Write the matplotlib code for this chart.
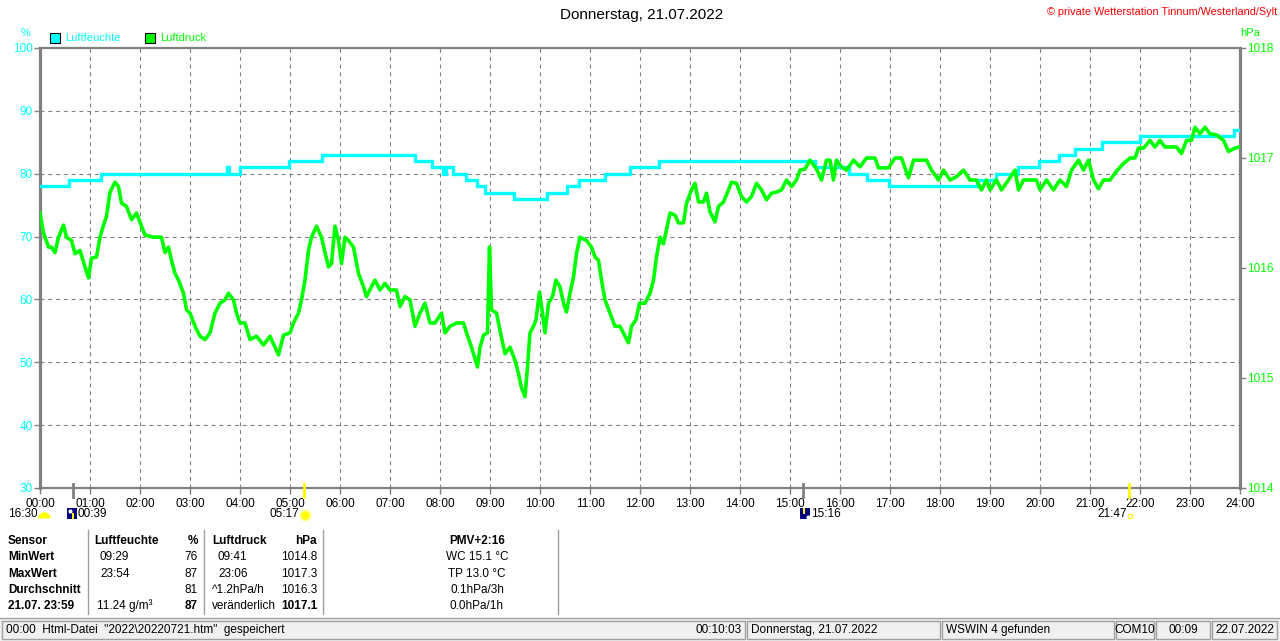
import matplotlib
matplotlib.use("Agg")
import matplotlib.pyplot as plt
import matplotlib.transforms as mtransforms
from matplotlib.patches import Rectangle
from matplotlib.lines import Line2D
from matplotlib.markers import MarkerStyle

plt.rcParams['font.family'] = ['Liberation Sans', 'DejaVu Sans']

# ---------------- data ----------------
hours = list(range(0, 25))
hour_labels = [f"{h:02d}:00" for h in hours]
hum_ticks = [30, 40, 50, 60, 70, 80, 90, 100]
pres_ticks = [1014, 1015, 1016, 1017, 1018]

# humidity (%), step changes: time in hours, value
hum_t = [0, 0.57, 1.21, 3.73, 3.77, 4.0, 4.97, 5.63, 7.5, 7.83, 8.05, 8.12, 8.25,
         8.53, 8.73, 8.9, 9.48, 10.13, 10.53, 10.77, 11.3, 11.79, 12.37, 15.5,
         16.17, 16.53, 16.97, 18.73, 19.11, 19.55, 19.97, 20.37, 20.7, 21.23,
         22.0, 23.87, 24.0]
hum_v = [78, 79, 80, 81, 80, 81, 82, 83, 82, 81, 80, 81, 80,
         79, 78, 77, 76, 77, 78, 79, 80, 81, 82, 81,
         80, 79, 78, 79, 80, 81, 82, 83, 84, 85,
         86, 87, 87]

# air pressure (hPa)
pres_t = [0.00, 0.07, 0.17, 0.23, 0.30, 0.37, 0.47, 0.53, 0.63, 0.70, 0.80, 0.90,
          0.97, 1.03, 1.13, 1.20, 1.27, 1.33, 1.40, 1.50, 1.57, 1.63, 1.73, 1.83,
          1.93, 2.03, 2.10, 2.27, 2.43, 2.50, 2.57, 2.63, 2.70, 2.77, 2.87, 2.93,
          3.00, 3.10, 3.20, 3.30, 3.40, 3.50, 3.60, 3.70, 3.77, 3.87, 3.93, 4.00,
          4.10, 4.20, 4.33, 4.47, 4.60, 4.70, 4.77, 4.87, 5.00, 5.07, 5.17, 5.23,
          5.30, 5.37, 5.43, 5.53, 5.63, 5.70, 5.77, 5.83, 5.90, 5.97, 6.03, 6.10,
          6.17, 6.27, 6.37, 6.47, 6.53, 6.63, 6.70, 6.80, 6.90, 7.00, 7.13, 7.20,
          7.30, 7.40, 7.50, 7.60, 7.70, 7.80, 7.90, 8.03, 8.10, 8.20, 8.33, 8.47,
          8.53, 8.60, 8.67, 8.75, 8.80, 8.87, 8.95, 8.99, 9.03, 9.13, 9.21, 9.30,
          9.40, 9.50, 9.57, 9.63, 9.70, 9.75, 9.80, 9.87, 9.92, 9.99, 10.05, 10.10,
          10.17, 10.25, 10.32, 10.40, 10.47, 10.53, 10.60, 10.67, 10.73, 10.80,
          10.93, 11.03, 11.10, 11.17, 11.23, 11.30, 11.40, 11.50, 11.60, 11.70,
          11.77, 11.83, 11.92, 11.99, 12.10, 12.20, 12.27, 12.33, 12.40, 12.47,
          12.53, 12.60, 12.70, 12.77, 12.87, 12.93, 13.03, 13.10, 13.17, 13.27,
          13.33, 13.40, 13.50, 13.57, 13.67, 13.77, 13.83, 13.93, 14.03, 14.13,
          14.23, 14.33, 14.43, 14.53, 14.63, 14.73, 14.83, 14.93, 15.03, 15.13,
          15.20, 15.30, 15.40, 15.53, 15.63, 15.73, 15.80, 15.87, 15.93, 16.03,
          16.13, 16.27, 16.40, 16.53, 16.70, 16.77, 16.87, 16.97, 17.10, 17.23,
          17.37, 17.47, 17.60, 17.73, 17.83, 17.97, 18.07, 18.20, 18.33, 18.47,
          18.60, 18.73, 18.83, 18.93, 19.00, 19.13, 19.23, 19.37, 19.50, 19.57,
          19.67, 19.80, 19.93, 20.00, 20.13, 20.27, 20.40, 20.53, 20.63, 20.77,
          20.87, 20.97, 21.07, 21.17, 21.27, 21.40, 21.53, 21.67, 21.80, 21.90,
          21.97, 22.07, 22.20, 22.30, 22.40, 22.50, 22.60, 22.73, 22.83, 22.93,
          23.03, 23.10, 23.20, 23.30, 23.40, 23.53, 23.67, 23.77, 23.90, 23.97, 24.00]
pres_v = [1016.50, 1016.32, 1016.19, 1016.19, 1016.14, 1016.28, 1016.39, 1016.28,
          1016.25, 1016.13, 1016.16, 1016.01, 1015.91, 1016.09, 1016.10, 1016.28,
          1016.39, 1016.47, 1016.69, 1016.78, 1016.74, 1016.59, 1016.56, 1016.44,
          1016.50, 1016.38, 1016.30, 1016.28, 1016.28, 1016.14, 1016.19, 1016.07,
          1015.95, 1015.89, 1015.77, 1015.62, 1015.59, 1015.47, 1015.38, 1015.35,
          1015.41, 1015.59, 1015.68, 1015.71, 1015.77, 1015.71, 1015.59, 1015.50,
          1015.50, 1015.35, 1015.38, 1015.30, 1015.38, 1015.28, 1015.21, 1015.39,
          1015.41, 1015.50, 1015.59, 1015.71, 1015.89, 1016.16, 1016.28, 1016.38,
          1016.28, 1016.14, 1016.01, 1016.04, 1016.38, 1016.25, 1016.04, 1016.28,
          1016.25, 1016.19, 1015.95, 1015.83, 1015.74, 1015.83, 1015.89, 1015.80,
          1015.86, 1015.80, 1015.80, 1015.65, 1015.74, 1015.71, 1015.47, 1015.59,
          1015.68, 1015.50, 1015.50, 1015.59, 1015.41, 1015.47, 1015.50, 1015.50,
          1015.41, 1015.32, 1015.22, 1015.10, 1015.28, 1015.39, 1015.41, 1016.19,
          1015.62, 1015.59, 1015.41, 1015.22, 1015.28, 1015.16, 1015.04, 1014.91,
          1014.83, 1015.10, 1015.41, 1015.47, 1015.53, 1015.78, 1015.59, 1015.41,
          1015.68, 1015.74, 1015.89, 1015.83, 1015.68, 1015.60, 1015.77, 1015.92,
          1016.13, 1016.28, 1016.25, 1016.19, 1016.10, 1016.07, 1015.89, 1015.71,
          1015.59, 1015.47, 1015.47, 1015.38, 1015.32, 1015.47, 1015.53, 1015.68,
          1015.68, 1015.77, 1015.89, 1016.10, 1016.28, 1016.22, 1016.35, 1016.50,
          1016.48, 1016.41, 1016.41, 1016.59, 1016.71, 1016.77, 1016.60, 1016.60,
          1016.68, 1016.51, 1016.42, 1016.56, 1016.60, 1016.71, 1016.78, 1016.77,
          1016.65, 1016.60, 1016.65, 1016.77, 1016.71, 1016.62, 1016.68, 1016.69,
          1016.71, 1016.80, 1016.74, 1016.80, 1016.89, 1016.90, 1016.98, 1016.90,
          1016.80, 1016.98, 1016.98, 1016.80, 1016.98, 1016.92, 1016.89, 1016.98,
          1016.92, 1017.00, 1017.00, 1016.91, 1016.91, 1016.91, 1017.00, 1017.00,
          1016.82, 1016.98, 1016.98, 1016.98, 1016.89, 1016.80, 1016.89, 1016.80,
          1016.83, 1016.89, 1016.80, 1016.80, 1016.71, 1016.80, 1016.71, 1016.80,
          1016.71, 1016.80, 1016.89, 1016.71, 1016.80, 1016.80, 1016.80, 1016.71,
          1016.80, 1016.71, 1016.80, 1016.74, 1016.89, 1016.98, 1016.89, 1016.98,
          1016.80, 1016.72, 1016.80, 1016.80, 1016.88, 1016.95, 1017.00, 1017.00,
          1017.09, 1017.09, 1017.16, 1017.10, 1017.16, 1017.10, 1017.10, 1017.10,
          1017.04, 1017.16, 1017.16, 1017.28, 1017.22, 1017.28, 1017.22, 1017.21,
          1017.16, 1017.06, 1017.09, 1017.10, 1017.10]

# astronomical markers (hours): moonset, sunrise, moonrise, sunset
mark_times = [0.65, 5.283, 15.267, 21.783]
mark_colors = ['#808080', '#ffff00', '#808080', '#ffff00']

title = "Donnerstag, 21.07.2022"
copyright_txt = "\u00a9 private Wetterstation Tinnum/Westerland/Sylt"

table_col1 = ["Sensor", "MinWert", "MaxWert", "Durchschnitt", "21.07. 23:59"]
hum_head = ("Luftfeuchte", "%")
hum_times = ["09:29", "23:54", "", "11.24 g/m\u00b3"]
hum_vals = ["76", "87", "81", "87"]
pres_head = ("Luftdruck", "hPa")
pres_times = ["09:41", "23:06", "^1.2hPa/h", "ver\u00e4nderlich"]
pres_vals = ["1014.8", "1017.3", "1016.3", "1017.1"]
pmv_lines = ["PMV+2:16", "WC 15.1 \u00b0C", "TP 13.0 \u00b0C", "0.1hPa/3h", "0.0hPa/1h"]

status_panels = [
    (2, 745, "00:00  Html-Datei  \"2022\\20220721.htm\"  gespeichert", "00:10:03"),
    (747, 940, "Donnerstag, 21.07.2022", None),
    (942, 1114, "WSWIN 4 gefunden", None),
    (1116, 1154, "COM10", None),
    (1156, 1210, "00:09", None),
    (1212, 1277, "22.07.2022", None),
]

# ---------------- figure ----------------
W, H = 1280, 641
fig = plt.figure(figsize=(W / 100, H / 100), dpi=100)
fig.patch.set_facecolor('white')

def fx(px):
    return px / W

def fy(py):
    return 1 - py / H

CYAN = '#00ffff'
GREEN = '#00ff00'
GRAY = '#808080'

L, R, T, B = 40, 1240, 48, 488
ax = fig.add_axes([fx(L), fy(B), fx(R - L), (B - T) / H])
ax.set_xlim(0, 24)
ax.set_ylim(30, 100)
ax.set_xticks(hours)
ax.set_xticklabels(hour_labels)
ax.set_yticks(hum_ticks)
ax.set_yticklabels([str(v) for v in hum_ticks])
ax.grid(True, color=GRAY, linestyle=(0, (3.5, 3.5)), linewidth=0.8)
ax.set_axisbelow(True)
for s, lw in (('left', 2.3), ('right', 2.3), ('top', 1.6), ('bottom', 1.6)):
    ax.spines[s].set_color(GRAY)
    ax.spines[s].set_linewidth(lw)
ax.tick_params(axis='y', colors=GRAY, labelcolor=CYAN, length=4, width=1,
               labelsize=8.5, pad=1)
ax.tick_params(axis='x', colors=GRAY, labelcolor='black', length=4, width=1,
               labelsize=8.5, pad=3)

ax.plot(hum_t, hum_v, drawstyle='steps-post', color=CYAN, lw=2.4,
        solid_joinstyle='miter', zorder=3)

ax2 = ax.twinx()
ax2.set_ylim(1014, 1018)
ax2.set_yticks(pres_ticks)
ax2.set_yticklabels([str(v) for v in pres_ticks])
ax2.tick_params(axis='y', colors=GRAY, labelcolor=GREEN, length=4, width=1,
                labelsize=8.5, pad=1)
for s in ax2.spines.values():
    s.set_visible(False)
ax2.plot(pres_t, pres_v, color=GREEN, lw=2.6, zorder=4)

# axis unit labels & legend
fig.text(fx(26), fy(33), "%", color=CYAN, fontsize=8, ha='center', va='center')
fig.text(fx(1250), fy(33), "hPa", color=GREEN, fontsize=8, ha='center', va='center')
fig.add_artist(Rectangle((fx(50), fy(43)), fx(10), 10 / H, facecolor=CYAN,
                         edgecolor='black', lw=0.8, transform=fig.transFigure))
fig.text(fx(65), fy(38), "Luftfeuchte", color=CYAN, fontsize=8, va='center')
fig.add_artist(Rectangle((fx(145), fy(43)), fx(10), 10 / H, facecolor=GREEN,
                         edgecolor='black', lw=0.8, transform=fig.transFigure))
fig.text(fx(160), fy(38), "Luftdruck", color=GREEN, fontsize=8, va='center')

fig.text(0.5015, fy(15), title, fontsize=11, ha='center', va='center')
fig.text(fx(1277), fy(12), copyright_txt, color='red', fontsize=7.8,
         ha='right', va='center')

# astronomical markers on the time axis
btr = mtransforms.blended_transform_factory(ax.transData, fig.transFigure)
for t, c in zip(mark_times, mark_colors):
    ax.add_line(Line2D([t, t], [fy(484), fy(497)], color=c, lw=2,
                       transform=btr, clip_on=False, zorder=6))

def txt(px, py, s, **kw):
    kw.setdefault('fontsize', 8.5)
    kw.setdefault('va', 'center')
    fig.text(fx(px), fy(py), s, **kw)

def mark(px, py, **kw):
    fig.add_artist(Line2D([fx(px)], [fy(py)], transform=fig.transFigure,
                          linestyle='none', **kw))

def box(x0, y0, w, h, **kw):
    fig.add_artist(Rectangle((fx(x0), fy(y0 + h)), fx(w), h / H,
                             transform=fig.transFigure, **kw))

# marker row
txt(8, 514, "16:30")
mark(44, 518, marker=MarkerStyle('o', fillstyle='top'), markersize=9,
     markerfacecolor='#ffff00', markerfacecoloralt='none', markeredgewidth=0)
box(67, 508, 10, 11, facecolor='#000080', edgecolor='none')
mark(70, 510.5, marker='o', markersize=3, markerfacecolor='white', markeredgecolor='none')
box(72, 513, 2, 6, facecolor='#ffff00', edgecolor='none')
txt(78, 514, "00:39")
txt(270, 514, "05:17")
mark(305, 515, marker='o', markersize=9, markerfacecolor='#ffffa0', markeredgecolor='none')
mark(305, 515, marker='o', markersize=6, markerfacecolor='#ffff00', markeredgecolor='none')
box(800, 508, 10, 11, facecolor='#000080', edgecolor='none')
box(803, 508, 2, 6, facecolor='#ffff00', edgecolor='none')
mark(808, 517, marker='o', markersize=3, markerfacecolor='white', markeredgecolor='none')
txt(811, 514, "15:16")
txt(1097, 514, "21:47")
box(1128, 514, 4, 4, facecolor='white', edgecolor='#ffff00', lw=0.8)

# ---------------- table ----------------
rows_y = [541, 557, 574, 590, 606]
for sx in (88, 204, 323, 558):
    fig.add_artist(Line2D([fx(sx), fx(sx)], [fy(530), fy(614)], color='#a0a0a0',
                          lw=1, transform=fig.transFigure))
for i, s in enumerate(table_col1):
    txt(8, rows_y[i], s, fontweight='bold')
txt(94, rows_y[0], hum_head[0], fontweight='bold')
txt(198, rows_y[0], hum_head[1], fontweight='bold', ha='right')
txt(212, rows_y[0], pres_head[0], fontweight='bold')
txt(317, rows_y[0], pres_head[1], fontweight='bold', ha='right')
for i in range(4):
    y = rows_y[i + 1]
    hx = 97 if i == 3 else 100
    txt(hx, y, hum_times[i])
    txt(198, y, hum_vals[i], ha='right', fontweight='bold' if i == 3 else 'normal')
    px_ = 212 if i >= 2 else 218
    txt(px_, y, pres_times[i])
    txt(317, y, pres_vals[i], ha='right', fontweight='bold' if i == 3 else 'normal')
for i, s in enumerate(pmv_lines):
    txt(477, rows_y[i], s, ha='center', fontweight='bold' if i == 0 else 'normal')

# ---------------- status bar ----------------
fig.add_artist(Rectangle((0, 0), 1, fy(618), facecolor='#f0f0f0', edgecolor='none',
                         transform=fig.transFigure, zorder=0))
fig.add_artist(Line2D([0, 1], [fy(618), fy(618)], color='#a0a0a0', lw=1,
                      transform=fig.transFigure))
for x0, x1, s, rs in status_panels:
    box(x0, 621, x1 - x0, 18, facecolor='#f0f0f0', edgecolor='#a0a0a0', lw=1)
    if x1 - x0 < 80:
        txt((x0 + x1) / 2, 630, s, ha='center', fontsize=8.5)
    else:
        txt(x0 + 4, 630, s, fontsize=8.5)
    if rs:
        txt(x1 - 3, 630, rs, ha='right', fontsize=8.5)

fig.savefig("out.png", dpi=100, facecolor='white')
